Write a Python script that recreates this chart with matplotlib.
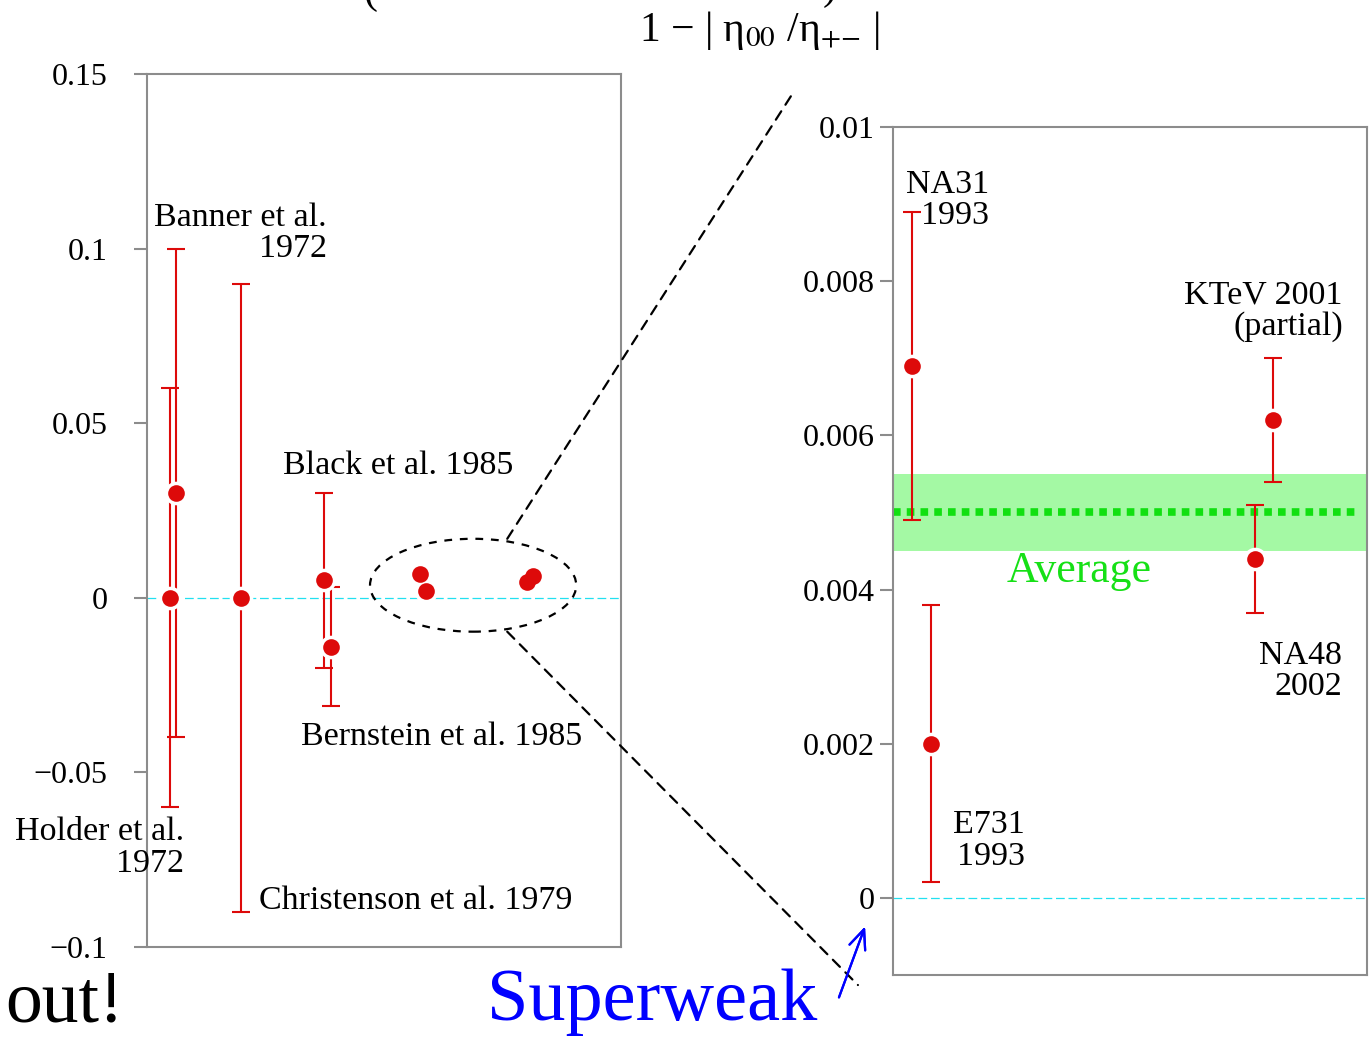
import matplotlib.pyplot as plt
from matplotlib.patches import Ellipse, ConnectionPatch

##Old measurements (left panel): x position, value, error bar ends
old_names = ['Holder et al. 1972', 'Banner et al. 1972', 'Christenson et al. 1979',
             'Black et al. 1985', 'Bernstein et al. 1985']
old_x = [0.0485, 0.061, 0.198, 0.373, 0.388]
old_val = [0.0, 0.030, 0.0, 0.005, -0.014]
old_lo = [-0.060, -0.040, -0.090, -0.020, -0.031]
old_hi = [0.060, 0.100, 0.090, 0.030, 0.003]

##Recent measurements (zoomed right panel)
new_names = ['NA31 1993', 'E731 1993', 'NA48 2002', 'KTeV 2001 (partial)']
new_x_left = [0.576, 0.589, 0.802, 0.814]
new_x_right = [0.040, 0.080, 0.764, 0.802]
new_val = [0.0069, 0.0020, 0.0044, 0.0062]
new_lo = [0.0049, 0.0002, 0.0037, 0.0054]
new_hi = [0.0089, 0.0038, 0.0051, 0.0070]

##World average and its band
avg = 0.005
avg_lo, avg_hi = 0.0045, 0.0055

##Axis ticks
left_ticks = [-0.1, -0.05, 0, 0.05, 0.1, 0.15]
left_ticklabels = ['\u22120.1', '\u22120.05', '0', '0.05', '0.1', '0.15']
right_ticks = [0, 0.002, 0.004, 0.006, 0.008, 0.01]
right_ticklabels = ['0', '0.002', '0.004', '0.006', '0.008', '0.01']

RED = '#dd0a0a'
GREY = '#8c8c8c'
CYAN = '#22e0f0'

plt.rcParams['font.family'] = ['Liberation Serif', 'DejaVu Serif']
plt.rcParams['mathtext.fontset'] = 'stix'

W, H = 1369, 1037
fig = plt.figure(figsize=(W / 100, H / 100), dpi=100)
ax1 = fig.add_axes([147 / W, 1 - 947 / H, 474 / W, 873 / H])
ax2 = fig.add_axes([893 / W, 1 - 975 / H, 474 / W, 848 / H])


def style(ax, ticks, labels, pad):
    for s in ax.spines.values():
        s.set_color(GREY)
        s.set_linewidth(1.5)
    ax.set_xticks([])
    ax.set_yticks(ticks)
    ax.set_yticklabels(labels)
    ax.tick_params(axis='y', direction='out', length=9.5, width=1.5, color=GREY,
                   labelsize=23, pad=pad)


def points(ax, x, v, lo, hi, bars=True):
    if bars:
        yerr = [[a - b for a, b in zip(v, lo)], [b - a for a, b in zip(v, hi)]]
        ax.errorbar(x, v, yerr=yerr, fmt='none', ecolor=RED, elinewidth=1.5,
                    capsize=6.5, capthick=1.5, zorder=3)
    ##white halo so the bars break around each point
    ax.plot(x, v, 'o', ms=17, color='white', mew=0, ls='none', zorder=4)
    ax.plot(x, v, 'o', ms=12, color=RED, mew=0, ls='none', zorder=5)


##Left panel
ax1.set_xlim(0, 1)
ax1.set_ylim(-0.1, 0.15)
style(ax1, left_ticks, left_ticklabels, 19)
ax1.axhline(0, color=CYAN, lw=0.9, ls=(0, (7, 3)), zorder=1)
points(ax1, old_x, old_val, old_lo, old_hi)
points(ax1, new_x_left, new_val, new_lo, new_hi, bars=False)

fs = 24.5
kw = dict(fontsize=fs, linespacing=1.05, clip_on=False, zorder=6)
ax1.text(0.380, 0.1044, 'Banner et al.\n1972', ha='right', va='center', multialignment='right', **kw)
ax1.text(0.078, -0.0716, 'Holder et al.\n1972', ha='right', va='center', multialignment='right', **kw)
ax1.text(0.236, -0.0868, 'Christenson et al. 1979', ha='left', va='center', **kw)
ax1.text(0.287, 0.0378, 'Black et al. 1985', ha='left', va='center', **kw)
ax1.text(0.325, -0.0398, 'Bernstein et al. 1985', ha='left', va='center', **kw)

ell = Ellipse((0.688, 0.0036), 0.435, 0.0266, fill=False, ec='black', lw=1.6,
              ls=(0, (3.5, 3.5)), zorder=2)
ax1.add_patch(ell)

##Right panel
ax2.set_xlim(0, 1)
ax2.set_ylim(-0.001, 0.01)
style(ax2, right_ticks, right_ticklabels, 4)
ax2.axhspan(avg_lo, avg_hi, color='#a4f9a4', lw=0, zorder=1)
ax2.axhline(avg, xmin=0, xmax=0.985, color='#11e011', lw=5.5, ls=(0, (1, 0.8)), zorder=2)
ax2.axhline(0, color=CYAN, lw=0.9, ls=(0, (7, 3)), zorder=1)
points(ax2, new_x_right, new_val, new_lo, new_hi)

ax2.text(0.2025, 0.00905, 'NA31\n1993', ha='right', va='center', multialignment='right', **kw)
ax2.text(0.2785, 0.00074, 'E731\n1993', ha='right', va='center', multialignment='right', **kw)
ax2.text(0.949, 0.00761, 'KTeV 2001\n(partial)', ha='right', va='center', multialignment='right', **kw)
ax2.text(0.947, 0.00294, 'NA48\n2002', ha='right', va='center', multialignment='right', **kw)
ax2.text(0.2405, 0.00424, 'Average', ha='left', va='center', fontsize=31.5, color='#16e016')

##Zoom lines from the ellipse to the right panel
for ya, xb, yb in [(0.0169, -0.207, 0.01048), (-0.0097, -0.074, -0.00113)]:
    con = ConnectionPatch(xyA=(0.76, ya), coordsA=ax1.transData,
                          xyB=(xb, yb), coordsB=ax2.transData,
                          color='black', lw=1.6, ls=(0, (4.5, 3.5)))
    fig.add_artist(con)

##Figure texts
fig.text(0.555, 1 - 30 / H, '1 \u2212 | \u03b7$_{00}$ /\u03b7$_{{+}{-}}$ |', ha='center', va='center',
         fontsize=30)
fig.text(370 / W, 1 - 12 / H, '(', ha='center', va='bottom', fontsize=30)
fig.text(830 / W, 1 - 8 / H, ')', ha='center', va='bottom', fontsize=30)
fig.text(5 / W, 1 - 1021 / H, 'out!', ha='left', va='baseline', fontsize=53)
fig.text(487 / W, 1 - 1020 / H, 'Superweak', ha='left', va='baseline', fontsize=53.5,
         color='#0000ff')
fig.add_artist(plt.annotate('', xy=(866 / W, 1 - 924 / H), xytext=(838 / W, 1 - 1000 / H),
                            xycoords='figure fraction', textcoords='figure fraction',
                            arrowprops=dict(arrowstyle='->,head_length=0.7,head_width=0.3',
                                            color='#0000ff', lw=1.6, mutation_scale=20)))

fig.savefig('out.png', dpi=100)
